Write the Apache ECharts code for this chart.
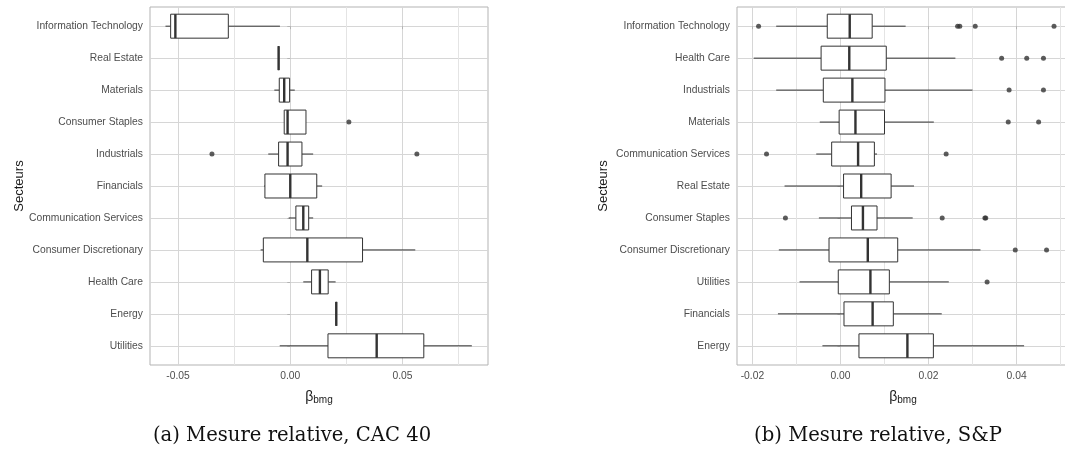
<!DOCTYPE html>
<html><head><meta charset="utf-8">
<script src="https://cdn.jsdelivr.net/npm/echarts@6/dist/echarts.min.js"></script>
<style>html,body{margin:0;padding:0;background:#fff}#c{width:1065px;height:452px}</style>
</head><body><div id="c"></div>
<script>
// ---- Panel (a): CAC 40 ----
const catsA = ['Information Technology','Real Estate','Materials','Consumer Staples','Industrials','Financials','Communication Services','Consumer Discretionary','Health Care','Energy','Utilities'];
// [lower whisker, Q1, median, Q3, upper whisker]
const boxesA = [
  [-0.0556,-0.0533,-0.0512,-0.0276,-0.0046],
  [-0.0052,-0.0052,-0.0052,-0.0052,-0.0052],
  [-0.0071,-0.0049,-0.0027,-0.0003,0.0020],
  [-0.0027,-0.0027,-0.0012,0.0070,0.0070],
  [-0.0098,-0.0052,-0.0012,0.0052,0.0102],
  [-0.0117,-0.0113,0.0000,0.0118,0.0142],
  [-0.0007,0.0025,0.0058,0.0082,0.0102],
  [-0.0132,-0.0120,0.0076,0.0322,0.0557],
  [0.0058,0.0095,0.0132,0.0169,0.0202],
  [0.0205,0.0205,0.0205,0.0205,0.0205],
  [-0.0047,0.0168,0.0385,0.0595,0.0809]
];
// [category index, value]
const outliersA = [[3,0.0261],[4,-0.0349],[4,0.0564]];
const ticksA = [-0.05,0,0.05];
const minorA = [-0.025,0.025,0.075];
const rangeA = [-0.0625,0.0881];

// ---- Panel (b): S&P ----
const catsB = ['Information Technology','Health Care','Industrials','Materials','Communication Services','Real Estate','Consumer Staples','Consumer Discretionary','Utilities','Financials','Energy'];
const boxesB = [
  [-0.0146,-0.0030,0.0021,0.0072,0.0148],
  [-0.0197,-0.0044,0.0020,0.0104,0.0261],
  [-0.0146,-0.0039,0.0027,0.0101,0.0300],
  [-0.0047,-0.0003,0.0034,0.0100,0.0212],
  [-0.0055,-0.0020,0.0040,0.0077,0.0083],
  [-0.0127,0.0007,0.0047,0.0115,0.0167],
  [-0.0049,0.0025,0.0051,0.0083,0.0164],
  [-0.0140,-0.0026,0.0062,0.0130,0.0318],
  [-0.0093,-0.0005,0.0068,0.0111,0.0246],
  [-0.0142,0.0008,0.0073,0.0120,0.0230],
  [-0.0041,0.0042,0.0152,0.0211,0.0417]
];
const outliersB = [[0,-0.0186],[0,0.0266],[0,0.0271],[0,0.0306],[0,0.0485],
  [1,0.0366],[1,0.0423],[1,0.0461],[2,0.0383],[2,0.0461],[3,0.0381],[3,0.0450],
  [4,-0.0168],[4,0.0240],[6,-0.0125],[6,0.0231],[6,0.0328],[6,0.0330],
  [7,0.0397],[7,0.0468],[8,0.0333]];
const ticksB = [-0.02,0,0.02,0.04];
const minorB = [-0.01,0.01,0.03,0.05];
const rangeB = [-0.0235,0.0519];

const captionA = '(a) Mesure relative, CAC 40';
const captionB = '(b) Mesure relative, S&P';

const SANS = 'Liberation Sans, Arial, sans-serif';
const catIdx = [0,1,2,3,4,5,6,7,8,9,10];
const BOX = '#333333';

function renderBox(params, api) {
  const idx = api.value(0);
  const lo = api.value(1), q1 = api.value(2), med = api.value(3), q3 = api.value(4), hi = api.value(5);
  const h = api.size([0, 1])[1] * 0.75;
  const pLo = api.coord([lo, idx]), pQ1 = api.coord([q1, idx]), pMed = api.coord([med, idx]);
  const pQ3 = api.coord([q3, idx]), pHi = api.coord([hi, idx]);
  const y = pMed[1];
  const ls = {stroke: BOX, lineWidth: 1};
  return {type: 'group', children: [
    {type: 'line', shape: {x1: pLo[0], y1: y, x2: pQ1[0], y2: y}, style: ls},
    {type: 'line', shape: {x1: pQ3[0], y1: y, x2: pHi[0], y2: y}, style: ls},
    {type: 'rect', shape: {x: pQ1[0], y: y - h / 2, width: pQ3[0] - pQ1[0], height: h},
      style: {fill: '#ffffff', stroke: BOX, lineWidth: 1}},
    {type: 'line', shape: {x1: pMed[0], y1: y - h / 2, x2: pMed[0], y2: y + h / 2},
      style: {stroke: BOX, lineWidth: 2.4}}
  ]};
}

function fmt(v) { return v === 0 ? '0.00' : v.toFixed(2); }

function xAxes(gi, range, ticks, minor) {
  return [{
    type: 'value', gridIndex: gi, min: range[0], max: range[1], position: 'bottom',
    axisLine: {show: false},
    axisTick: {show: true, length: 3, lineStyle: {color: '#b3b3b3'}, customValues: ticks},
    axisLabel: {customValues: ticks, formatter: fmt, fontSize: 10.3, color: '#4d4d4d',
      fontFamily: SANS, margin: 6},
    splitLine: {show: true, lineStyle: {color: '#d6d6d6', width: 1}},
    name: '{b|β}{s|bmg}', nameLocation: 'middle', nameGap: 23, nameMoveOverlap: false,
    nameTextStyle: {rich: {
      b: {fontSize: 14, color: '#1a1a1a', fontFamily: SANS, lineHeight: 18},
      s: {fontSize: 10, color: '#1a1a1a', fontFamily: SANS, lineHeight: 18, padding: [6, 0, 0, 0]}
    }}
  }, {
    type: 'value', gridIndex: gi, min: range[0], max: range[1], position: 'top',
    axisLine: {show: false}, axisLabel: {show: false},
    axisTick: {show: false, customValues: minor},
    splitLine: {show: true, lineStyle: {color: '#e4e4e4', width: 1}}
  }];
}

function yAxis(gi, cats, gap) {
  return {
    type: 'value', gridIndex: gi, min: -0.6, max: 10.6, inverse: true,
    axisLine: {show: false},
    axisTick: {show: true, length: 3, lineStyle: {color: '#b3b3b3'}, customValues: catIdx},
    axisLabel: {customValues: catIdx, formatter: v => cats[Math.round(v)], fontSize: 10.3,
      color: '#4d4d4d', fontFamily: SANS, margin: 7},
    splitLine: {show: true, lineStyle: {color: '#d6d6d6', width: 1}},
    name: 'Secteurs', nameLocation: 'middle', nameGap: gap, nameMoveOverlap: false,
    nameTextStyle: {fontSize: 13, color: '#1a1a1a', fontFamily: SANS}
  };
}

const boxDataA = boxesA.map((b, i) => [i].concat(b));
const boxDataB = boxesB.map((b, i) => [i].concat(b));

const chart = echarts.init(document.getElementById('c'), null, {renderer: 'canvas'});
chart.setOption({
  backgroundColor: '#ffffff',
  animation: false,
  grid: [
    {left: 150, top: 7, width: 338, height: 358, show: true, borderColor: '#b3b3b3', borderWidth: 1,
      backgroundColor: '#ffffff', outerBoundsMode: 'none', containLabel: false},
    {left: 737, top: 7, width: 332, height: 358, show: true, borderColor: '#b3b3b3', borderWidth: 1,
      backgroundColor: '#ffffff', outerBoundsMode: 'none', containLabel: false}
  ],
  xAxis: xAxes(0, rangeA, ticksA, minorA).concat(xAxes(1, rangeB, ticksB, minorB)),
  yAxis: [yAxis(0, catsA, 124), yAxis(1, catsB, 127)],
  series: [
    {type: 'custom', xAxisIndex: 0, yAxisIndex: 0, renderItem: renderBox, data: boxDataA,
      encode: {x: [1, 2, 3, 4, 5], y: 0}, clip: false, z: 3},
    {type: 'scatter', xAxisIndex: 0, yAxisIndex: 0, data: outliersA.map(o => [o[1], o[0]]),
      symbol: 'circle', symbolSize: 5, itemStyle: {color: '#333333'}, z: 4},
    {type: 'custom', xAxisIndex: 2, yAxisIndex: 1, renderItem: renderBox, data: boxDataB,
      encode: {x: [1, 2, 3, 4, 5], y: 0}, clip: false, z: 3},
    {type: 'scatter', xAxisIndex: 2, yAxisIndex: 1, data: outliersB.map(o => [o[1], o[0]]),
      symbol: 'circle', symbolSize: 5, itemStyle: {color: '#333333'}, z: 4}
  ],
  graphic: [
    {type: 'text', x: 292, y: 436, style: {text: captionA, font: '19.6px "DejaVu Serif", serif',
      fill: '#111111', textAlign: 'center', textVerticalAlign: 'middle'}},
    {type: 'text', x: 878, y: 436, style: {text: captionB, font: '19.6px "DejaVu Serif", serif',
      fill: '#111111', textAlign: 'center', textVerticalAlign: 'middle'}}
  ]
});
</script></body></html>
